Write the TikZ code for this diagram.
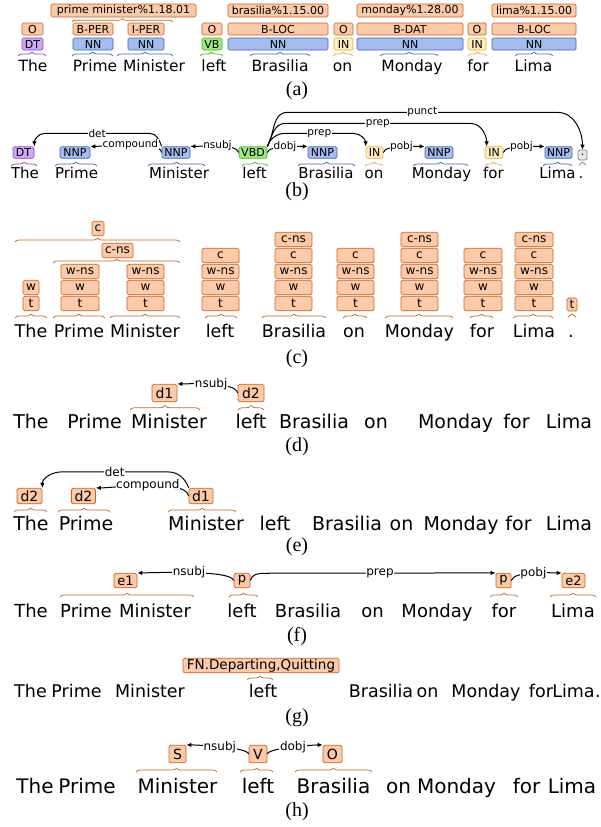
\documentclass[tikz,border=0pt]{standalone}
\usepackage{fontspec}
\setmainfont{DejaVu Sans}
\newfontfamily\capfont{Liberation Serif}
\usepackage{tikz}
\usetikzlibrary{arrows.meta,decorations.pathreplacing}
\definecolor{ofill}{RGB}{252,202,168}
\definecolor{obrd}{RGB}{196,98,38}
\definecolor{bfill}{RGB}{165,188,236}
\definecolor{bbrd}{RGB}{66,98,178}
\definecolor{pfill}{RGB}{204,168,240}
\definecolor{pbrd}{RGB}{140,70,200}
\definecolor{gfill}{RGB}{160,232,128}
\definecolor{gbrd}{RGB}{68,178,40}
\definecolor{yfill}{RGB}{255,236,192}
\definecolor{ybrd}{RGB}{226,172,64}
\definecolor{kfill}{RGB}{232,232,232}
\definecolor{kbrd}{RGB}{128,128,128}

\begin{document}
\begin{tikzpicture}[x=1pt,y=1pt]
\tikzset{tag/.style = {draw=obrd,fill=ofill,rounded corners=1.5pt,inner sep=0pt,line width=0.7pt,font=\fontsize{#1}{#1}\selectfont}, tag/.default=11}
\tikzset{nn/.style = {tag=#1,draw=bbrd,fill=bfill}, nn/.default=11}
\tikzset{dt/.style = {tag=#1,draw=pbrd,fill=pfill}, dt/.default=11}
\tikzset{vb/.style = {tag=#1,draw=gbrd,fill=gfill}, vb/.default=11}
\tikzset{prp/.style = {tag=#1,draw=ybrd,fill=yfill}, prp/.default=11}
\tikzset{pnc/.style = {tag=#1,draw=kbrd,fill=kfill}, pnc/.default=11}
\tikzset{word/.style = {anchor=base,inner sep=0pt,font=\fontsize{#1}{#1}\selectfont}}
\tikzset{lab/.style = {fill=white,inner sep=0.6pt,font=\fontsize{#1}{#1}\selectfont}, lab/.default=10.5}
\tikzset{dep/.style = {->,>={Latex[length=5pt,width=4.5pt]},line width=1pt}}
\tikzset{brc/.style = {decorate,decoration={brace,amplitude=#1},line width=0.7pt}, brc/.default=4pt}
\tikzset{capt/.style = {font=\capfont\fontsize{20}{20}\selectfont}}
\useasboundingbox (0,0) rectangle (601,-827);

% (a) senses
\node[tag,minimum width=145pt,minimum height=13pt] (apm) at (123.5,-10.5) {prime minister\%1.18.01};
\node[tag,minimum width=100pt,minimum height=13pt] (abr) at (278,-10.5) {brasilia\%1.15.00};
\node[tag,minimum width=106pt,minimum height=13pt] (amo) at (410,-10.5) {monday\%1.28.00};
\node[tag,minimum width=84pt,minimum height=13pt] (ali) at (534,-10.5) {lima\%1.15.00};
% (a) entities
\node[tag,minimum width=21pt,minimum height=12pt] (ao1) at (32.5,-29) {O};
\node[tag,minimum width=40pt,minimum height=12pt] (aper1) at (93,-29) {B-PER};
\node[tag,minimum width=36pt,minimum height=12pt] (aper2) at (146,-29) {I-PER};
\node[tag,minimum width=20pt,minimum height=12pt] (ao2) at (212,-29) {O};
\node[tag,minimum width=100pt,minimum height=12pt] (aloc1) at (278,-29) {B-LOC};
\node[tag,minimum width=19pt,minimum height=12pt] (ao3) at (343.5,-29) {O};
\node[tag,minimum width=106pt,minimum height=12pt] (adat) at (410,-29) {B-DAT};
\node[tag,minimum width=18pt,minimum height=12pt] (ao4) at (477,-29) {O};
\node[tag,minimum width=84pt,minimum height=12pt] (aloc2) at (534,-29) {B-LOC};
% (a) pos
\node[dt,minimum width=21pt,minimum height=12pt] (adt) at (32.5,-44) {DT};
\node[nn,minimum width=40pt,minimum height=12pt] (ann1) at (93,-44) {NN};
\node[nn,minimum width=36pt,minimum height=12pt] (ann2) at (146,-44) {NN};
\node[vb,minimum width=20pt,minimum height=12pt] (avb) at (212,-44) {VB};
\node[nn,minimum width=100pt,minimum height=12pt] (ann3) at (278,-44) {NN};
\node[prp,minimum width=19pt,minimum height=12pt] (ain1) at (343.5,-44) {IN};
\node[nn,minimum width=106pt,minimum height=12pt] (ann4) at (410,-44) {NN};
\node[prp,minimum width=18pt,minimum height=12pt] (ain2) at (477,-44) {IN};
\node[nn,minimum width=84pt,minimum height=12pt] (ann5) at (534,-44) {NN};
% (a) braces
\draw[brc=3.5pt,obrd] (72,-22) -- (173,-22);
\draw[brc,pbrd] (18,-56) -- (46,-56);
\draw[brc,bbrd] (72,-56) -- (113,-56);
\draw[brc,bbrd] (117,-56) -- (173,-56);
\draw[brc,gbrd] (200,-56) -- (223,-56);
\draw[brc,bbrd] (250,-56) -- (310,-56);
\draw[brc,ybrd] (333,-56) -- (353,-56);
\draw[brc,bbrd] (380,-56) -- (438,-56);
\draw[brc,ybrd] (468,-56) -- (487,-56);
\draw[brc,bbrd] (515,-56) -- (553,-56);
% (a) words
\node[word=15.5] (a1) at (33,-71.5) {The};
\node[word=15.5] (a2) at (95,-71.5) {Prime};
\node[word=15.5] (a3) at (154,-71.5) {Minister};
\node[word=15.5] (a4) at (214,-71.5) {left};
\node[word=15.5] (a5) at (280,-71.5) {Brasilia};
\node[word=15.5] (a6) at (342.5,-71.5) {on};
\node[word=15.5] (a7) at (412,-71.5) {Monday};
\node[word=15.5] (a8) at (478,-71.5) {for};
\node[word=15.5] (a9) at (533.5,-71.5) {Lima};
\node[capt] (capa) at (297,-91) {(a)};

% (b) pos
\node[dt,minimum width=21pt,minimum height=11.5pt] (bdt) at (23.5,-152.5) {DT};
\node[nn,minimum width=30pt,minimum height=11.5pt] (bnp1) at (75,-152.5) {NNP};
\node[nn,minimum width=28pt,minimum height=11.5pt] (bnp2) at (176,-152.5) {NNP};
\node[vb,minimum width=28pt,minimum height=11.5pt] (bvbd) at (253,-152.5) {VBD};
\node[nn,minimum width=29pt,minimum height=11.5pt] (bnp3) at (322.5,-152.5) {NNP};
\node[prp,minimum width=17pt,minimum height=11.5pt] (bin1) at (374.5,-152.5) {IN};
\node[nn,minimum width=28pt,minimum height=11.5pt] (bnp4) at (439,-152.5) {NNP};
\node[prp,minimum width=18pt,minimum height=11.5pt] (bin2) at (494,-152.5) {IN};
\node[nn,minimum width=27pt,minimum height=11.5pt] (bnp5) at (558.5,-152.5) {NNP};
\node[pnc,minimum width=9pt,minimum height=10pt] (bpu) at (582.5,-155) {.};
% (b) edges
\draw[dep] (bnp2.north west) to[out=110,in=0] ++(-12,13) -- node[lab]{det} ++(-105,0) to[out=180,in=90] (bdt.north east);
\draw[dep] (bnp2.west) to[out=100,in=0,looseness=.5] node[lab]{compound} (bnp1.north east);
\draw[dep] (bvbd.west) to[out=100,in=0,looseness=.5] node[lab]{nsubj} (bnp2.north east);
\draw[dep] (bvbd.east) to[out=80,in=180,looseness=.5] node[lab]{dobj} (bnp3.north west);
\draw[dep] (bvbd.north east) to[out=70,in=180] ++(18,13) -- node[lab]{prep} ++(68,0) to[out=0,in=90] (bin1.north west);
\draw[dep] (bvbd.north east) to[out=65,in=180] ++(18,23) -- node[lab]{prep} ++(185,0) to[out=0,in=90] ([xshift=2pt]bin2.north west);
\draw[dep] (bvbd.north east) to[out=60,in=180] ++(20,34) -- node[lab]{punct} ++(270,0) to[out=0,in=90] (bpu.north);
\draw[dep] (bin1.east) to[out=80,in=180,looseness=.5] node[lab]{pobj} (bnp4.north west);
\draw[dep] (bin2.east) to[out=80,in=180,looseness=.5] node[lab]{pobj} (bnp5.north west);
% (b) braces
\draw[brc,pbrd] (11,-166) -- (37,-166);
\draw[brc,bbrd] (55,-166) -- (97,-166);
\draw[brc,bbrd] (148,-166) -- (205,-166);
\draw[brc,gbrd] (242,-166) -- (268,-166);
\draw[brc,bbrd] (298,-166) -- (355,-166);
\draw[brc,ybrd] (365,-166) -- (383,-166);
\draw[brc,bbrd] (413,-166) -- (468,-166);
\draw[brc,ybrd] (485,-166) -- (502,-166);
\draw[brc,bbrd] (543,-166) -- (572,-166);
\draw[brc=3pt,kbrd] (579,-165) -- (586,-165);
% (b) words
\node[word=15] (b1) at (25,-178.5) {The};
\node[word=15] (b2) at (76.5,-178.5) {Prime};
\node[word=15] (b3) at (179,-178.5) {Minister};
\node[word=15] (b4) at (254.5,-178.5) {left};
\node[word=15] (b5) at (326,-178.5) {Brasilia};
\node[word=15] (b6) at (374,-178.5) {on};
\node[word=15] (b7) at (441.5,-178.5) {Monday};
\node[word=15] (b8) at (493.5,-178.5) {for};
\node[word=15] (b9) at (557.5,-178.5) {Lima};
\node[word=15] (b10) at (581,-178.5) {.};
\node[capt] (capb) at (297,-192) {(b)};

% (c) chunks
\node[tag=12,minimum width=12pt,minimum height=14.5pt] (cc) at (98,-228.5) {c};
\node[tag=12,minimum width=31pt,minimum height=14.5pt] (ccns) at (117.5,-250.5) {c-ns};
\node[tag=12,minimum width=16pt,minimum height=14.5pt] (cw1) at (31,-287.5) {w};
\node[tag=12,minimum width=16pt,minimum height=14.5pt] (ct1) at (31,-303.5) {t};
\node[tag=12,minimum width=38pt,minimum height=14.5pt] (cn2) at (80,-271.5) {w-ns};
\node[tag=12,minimum width=38pt,minimum height=14.5pt] (cw2) at (80,-287.5) {w};
\node[tag=12,minimum width=38pt,minimum height=14.5pt] (ct2) at (80,-303.5) {t};
\node[tag=12,minimum width=37pt,minimum height=14.5pt] (cn3) at (145.5,-271.5) {w-ns};
\node[tag=12,minimum width=37pt,minimum height=14.5pt] (cw3) at (145.5,-287.5) {w};
\node[tag=12,minimum width=37pt,minimum height=14.5pt] (ct3) at (145.5,-303.5) {t};
\node[tag=12,minimum width=37pt,minimum height=14.5pt] (cc4) at (220.5,-255.5) {c};
\node[tag=12,minimum width=37pt,minimum height=14.5pt] (cn4) at (220.5,-271.5) {w-ns};
\node[tag=12,minimum width=37pt,minimum height=14.5pt] (cw4) at (220.5,-287.5) {w};
\node[tag=12,minimum width=37pt,minimum height=14.5pt] (ct4) at (220.5,-303.5) {t};
\node[tag=12,minimum width=37pt,minimum height=14.5pt] (cx5) at (293.5,-239.5) {c-ns};
\node[tag=12,minimum width=37pt,minimum height=14.5pt] (cc5) at (293.5,-255.5) {c};
\node[tag=12,minimum width=37pt,minimum height=14.5pt] (cn5) at (293.5,-271.5) {w-ns};
\node[tag=12,minimum width=37pt,minimum height=14.5pt] (cw5) at (293.5,-287.5) {w};
\node[tag=12,minimum width=37pt,minimum height=14.5pt] (ct5) at (293.5,-303.5) {t};
\node[tag=12,minimum width=37pt,minimum height=14.5pt] (cc6) at (355.5,-255.5) {c};
\node[tag=12,minimum width=37pt,minimum height=14.5pt] (cn6) at (355.5,-271.5) {w-ns};
\node[tag=12,minimum width=37pt,minimum height=14.5pt] (cw6) at (355.5,-287.5) {w};
\node[tag=12,minimum width=37pt,minimum height=14.5pt] (ct6) at (355.5,-303.5) {t};
\node[tag=12,minimum width=37pt,minimum height=14.5pt] (cx7) at (419.5,-239.5) {c-ns};
\node[tag=12,minimum width=37pt,minimum height=14.5pt] (cc7) at (419.5,-255.5) {c};
\node[tag=12,minimum width=37pt,minimum height=14.5pt] (cn7) at (419.5,-271.5) {w-ns};
\node[tag=12,minimum width=37pt,minimum height=14.5pt] (cw7) at (419.5,-287.5) {w};
\node[tag=12,minimum width=37pt,minimum height=14.5pt] (ct7) at (419.5,-303.5) {t};
\node[tag=12,minimum width=38pt,minimum height=14.5pt] (cc8) at (483,-255.5) {c};
\node[tag=12,minimum width=38pt,minimum height=14.5pt] (cn8) at (483,-271.5) {w-ns};
\node[tag=12,minimum width=38pt,minimum height=14.5pt] (cw8) at (483,-287.5) {w};
\node[tag=12,minimum width=38pt,minimum height=14.5pt] (ct8) at (483,-303.5) {t};
\node[tag=12,minimum width=38pt,minimum height=14.5pt] (cx9) at (534,-239.5) {c-ns};
\node[tag=12,minimum width=38pt,minimum height=14.5pt] (cc9) at (534,-255.5) {c};
\node[tag=12,minimum width=38pt,minimum height=14.5pt] (cn9) at (534,-271.5) {w-ns};
\node[tag=12,minimum width=38pt,minimum height=14.5pt] (cw9) at (534,-287.5) {w};
\node[tag=12,minimum width=38pt,minimum height=14.5pt] (ct9) at (534,-303.5) {t};
\node[tag=12,minimum width=10pt,minimum height=13pt] (ct10) at (572,-304.5) {t};
% (c) braces
\draw[brc,obrd] (15,-242) -- (180,-242);
\draw[brc,obrd] (53,-263) -- (180,-263);
\draw[brc,obrd] (15,-318) -- (47,-318);
\draw[brc,obrd] (53,-318) -- (105,-318);
\draw[brc,obrd] (110,-318) -- (180,-318);
\draw[brc,obrd] (205,-318) -- (237,-318);
\draw[brc,obrd] (262,-318) -- (326,-318);
\draw[brc,obrd] (343,-318) -- (367,-318);
\draw[brc,obrd] (385,-318) -- (453,-318);
\draw[brc,obrd] (470,-318) -- (493,-318);
\draw[brc,obrd] (513,-318) -- (553,-318);
\draw[brc=3pt,obrd] (568,-317) -- (576,-317);
% (c) words
\node[word=17.5] (c1) at (31,-337) {The};
\node[word=17.5] (c2) at (79,-337) {Prime};
\node[word=17.5] (c3) at (145,-337) {Minister};
\node[word=17.5] (c4) at (220,-337) {left};
\node[word=17.5] (c5) at (294,-337) {Brasilia};
\node[word=17.5] (c6) at (354,-337) {on};
\node[word=17.5] (c7) at (419.5,-337) {Monday};
\node[word=17.5] (c8) at (482,-337) {for};
\node[word=17.5] (c9) at (534,-337) {Lima};
\node[word=17.5] (c10) at (571,-337) {.};
\node[capt] (capc) at (297,-359) {(c)};

% (d)
\node[tag=14,minimum width=25pt,minimum height=17.5pt] (dd1) at (164.5,-393) {d1};
\node[tag=14,minimum width=26pt,minimum height=17.5pt] (dd2) at (251,-393) {d2};
\draw[dep] (dd2.west) to[out=100,in=0,looseness=.5] node[lab=12]{nsubj} (dd1.north east);
\draw[brc=4.5pt,obrd] (130,-410) -- (200,-410);
\draw[brc=4.5pt,obrd] (238,-410) -- (264,-410);
\node[word=19] (d1) at (31,-428) {The};
\node[word=19] (d2) at (94.5,-428) {Prime};
\node[word=19] (d3) at (169,-428) {Minister};
\node[word=19] (d4) at (251,-428) {left};
\node[word=19] (d5) at (314,-428) {Brasilia};
\node[word=19] (d6) at (376,-428) {on};
\node[word=19] (d7) at (455.5,-428) {Monday};
\node[word=19] (d8) at (516.5,-428) {for};
\node[word=19] (d9) at (569,-428) {Lima};
\node[capt] (capd) at (297,-447) {(d)};

% (e)
\node[tag=14,minimum width=25pt,minimum height=15.5pt] (ed2a) at (29.5,-496) {d2};
\node[tag=14,minimum width=24pt,minimum height=15.5pt] (ed2b) at (83.5,-496) {d2};
\node[tag=14,minimum width=24pt,minimum height=15.5pt] (ed1) at (201,-496) {d1};
\draw[dep] (ed1.north west) to[out=110,in=0] ++(-21,16) -- node[lab=12]{det} ++(-106,0) to[out=180,in=90] (ed2a.north east);
\draw[dep] (ed1.west) to[out=100,in=0,looseness=.5] node[lab=12]{compound} (ed2b.north east);
\draw[brc,obrd] (14,-512) -- (47,-512);
\draw[brc,obrd] (58,-512) -- (110,-512);
\draw[brc,obrd] (168,-512) -- (236,-512);
\node[word=19] (e1) at (31,-530) {The};
\node[word=19] (e2) at (86,-530) {Prime};
\node[word=19] (e3) at (206,-530) {Minister};
\node[word=19] (e4) at (275,-530) {left};
\node[word=19] (e5) at (347,-530) {Brasilia};
\node[word=19] (e6) at (401.5,-530) {on};
\node[word=19] (e7) at (461,-530) {Monday};
\node[word=19] (e8) at (518.5,-530) {for};
\node[word=19] (e9) at (569,-530) {Lima};
\node[capt] (cape) at (297,-547) {(e)};

% (f)
\node[tag=13,minimum width=23pt,minimum height=14.5pt] (fe1) at (125.5,-580.5) {e1};
\node[tag=13,minimum width=16pt,minimum height=14.5pt] (fp1) at (242,-580.5) {p};
\node[tag=13,minimum width=15pt,minimum height=14.5pt] (fp2) at (503.5,-580.5) {p};
\node[tag=13,minimum width=23pt,minimum height=14.5pt] (fe2) at (573.5,-580.5) {e2};
\draw[dep] (fp1.west) to[out=100,in=0,looseness=.3] node[lab=12]{nsubj} (fe1.north east);
\draw[dep] (fp1.east) to[out=80,in=180] ++(14,7.25) -- node[lab=12]{prep} (fp2.north west);
\draw[dep] (fp2.east) to[out=80,in=180,looseness=.5] node[lab=12]{pobj} (fe2.north west);
\draw[brc,obrd] (60,-597) -- (194,-597);
\draw[brc,obrd] (229,-597) -- (258,-597);
\draw[brc,obrd] (490,-597) -- (518,-597);
\draw[brc,obrd] (550,-597) -- (596,-597);
\node[word=18] (f1) at (31,-617) {The};
\node[word=18] (f2) at (86,-617) {Prime};
\node[word=18] (f3) at (155,-617) {Minister};
\node[word=18] (f4) at (242,-617) {left};
\node[word=18] (f5) at (308,-617) {Brasilia};
\node[word=18] (f6) at (372.5,-617) {on};
\node[word=18] (f7) at (437,-617) {Monday};
\node[word=18] (f8) at (504,-617) {for};
\node[word=18] (f9) at (573,-617) {Lima};
\node[capt] (capf) at (297,-637) {(f)};

% (g)
\node[tag=13.5,minimum width=156pt,minimum height=14.5pt] (gfn) at (261,-665.5) {FN.Departing,Quitting};
\draw[brc,obrd] (247,-680) -- (273,-680);
\node[word=17.5] (g1) at (30.5,-697) {The};
\node[word=17.5] (g2) at (76.5,-697) {Prime};
\node[word=17.5] (g3) at (150,-697) {Minister};
\node[word=17.5] (g4) at (263,-697) {left};
\node[word=17.5] (g5) at (381,-697) {Brasilia};
\node[word=17.5] (g6) at (427.5,-697) {on};
\node[word=17.5] (g7) at (486,-697) {Monday};
\node[word=17.5] (g8) at (541,-697) {for};
\node[word=17.5] (g9) at (573.5,-697) {Lima};
\node[word=17.5] (g10) at (598,-697) {.};
\node[capt] (capg) at (297,-718) {(g)};

% (h)
\node[tag=14,minimum width=17pt,minimum height=17.5pt] (hs) at (177.5,-754) {S};
\node[tag=14,minimum width=18pt,minimum height=17.5pt] (hv) at (258,-754) {V};
\node[tag=14,minimum width=19pt,minimum height=17.5pt] (ho) at (332.5,-754) {O};
\draw[dep] (hv.west) to[out=100,in=0,looseness=.3] node[lab=12]{nsubj} (hs.north east);
\draw[dep] (hv.east) to[out=80,in=180,looseness=.3] node[lab=12]{dobj} (ho.north west);
\draw[brc,obrd] (136,-772) -- (217,-772);
\draw[brc,obrd] (240,-772) -- (273,-772);
\draw[brc,obrd] (295,-772) -- (372,-772);
\node[word=20] (h1) at (35,-793) {The};
\node[word=20] (h2) at (87,-793) {Prime};
\node[word=20] (h3) at (177.5,-793) {Minister};
\node[word=20] (h4) at (258,-793) {left};
\node[word=20] (h5) at (333.5,-793) {Brasilia};
\node[word=20] (h6) at (398.5,-793) {on};
\node[word=20] (h7) at (456.5,-793) {Monday};
\node[word=20] (h8) at (526.5,-793) {for};
\node[word=20] (h9) at (572,-793) {Lima};
\node[capt] (caph) at (297,-812) {(h)};
\end{tikzpicture}
\end{document}
